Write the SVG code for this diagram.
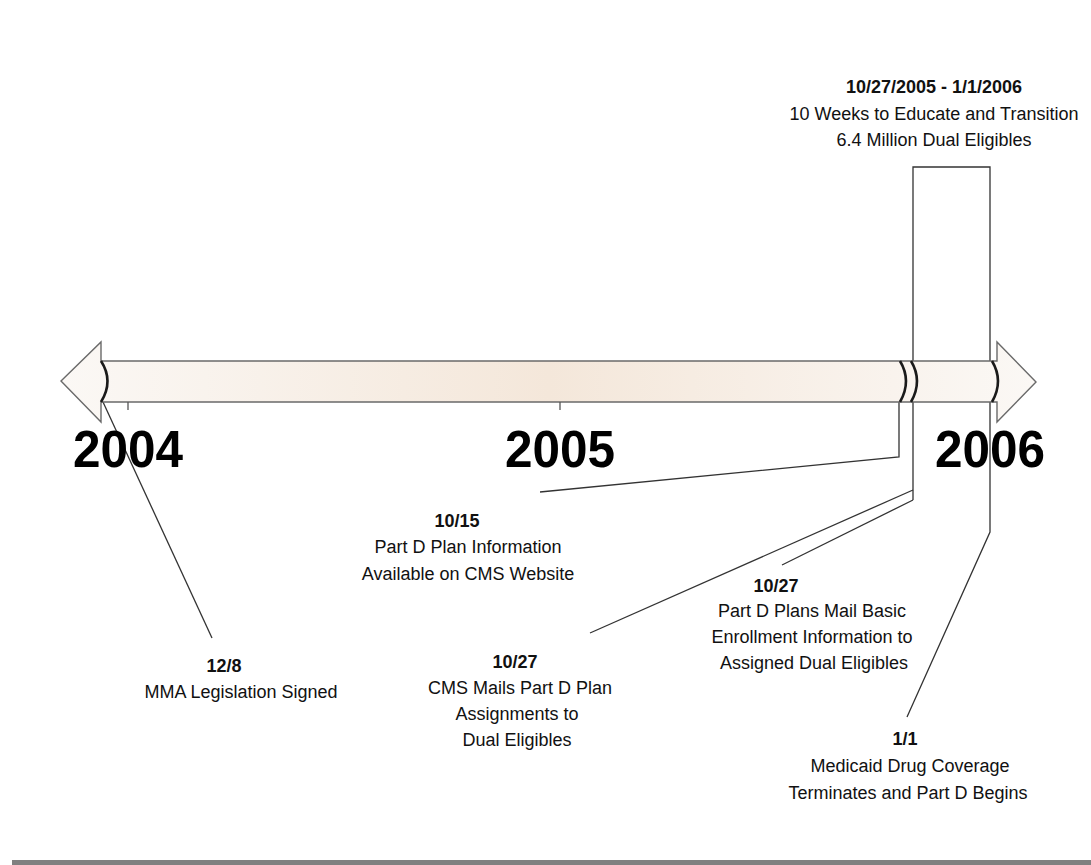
<svg xmlns="http://www.w3.org/2000/svg" width="1091" height="865" viewBox="0 0 1091 865">
<defs>
<linearGradient id="barFill" x1="0" y1="0" x2="1" y2="0">
<stop offset="0" stop-color="#fbf8f5"/>
<stop offset="0.5" stop-color="#f4e7da"/>
<stop offset="1" stop-color="#fbf8f5"/>
</linearGradient>
<style>
.lbl{font-family:"Liberation Sans",Arial,sans-serif;font-size:18px;fill:#111;text-anchor:middle}
.date{font-family:"Liberation Sans",Arial,sans-serif;font-size:18px;font-weight:bold;fill:#111;text-anchor:middle}
.year{font-family:"Liberation Sans",Arial,sans-serif;font-size:52px;font-weight:bold;fill:#000}
.conn{fill:none;stroke:#333;stroke-width:1.3}
.brk{fill:none;stroke:#1a1a1a;stroke-width:2.6}
.tick{stroke:#555;stroke-width:1.3}
</style>
</defs>
<rect width="1091" height="865" fill="#fff"/>
<g id="connectors">
<path class="conn" d="M103,402 L212,638"/>
<path class="conn" d="M899,402 V457 L540,492"/>
<path class="conn" d="M913,500 V167 H990 V532 L907,717"/>
<path class="conn" d="M913,490 L590,633"/>
<path class="conn" d="M913,500 L782,565"/>
</g>
<g id="timeline">
<path d="M101,361 V342 L61,381 L101,422 V402 H997 V422 L1036,382 L997,342 V361 Z" fill="url(#barFill)" stroke="#6a6a6a" stroke-width="1.4"/>
<path class="brk" d="M101,361 Q114,381 101,402"/>
<path class="brk" d="M900,361 Q912,381 900,402"/>
<path class="brk" d="M911,361 Q923,381 911,402"/>
<path class="brk" d="M992,361 Q1004,381 992,402"/>
<line class="tick" x1="128" y1="402" x2="128" y2="410"/>
<line class="tick" x1="560" y1="402" x2="560" y2="410"/>
</g>
<g id="years">
<text class="year" x="73" y="467" textLength="110" lengthAdjust="spacingAndGlyphs">2004</text>
<text class="year" x="505" y="467" textLength="110" lengthAdjust="spacingAndGlyphs">2005</text>
<text class="year" x="935" y="467" textLength="110" lengthAdjust="spacingAndGlyphs">2006</text>
</g>
<g id="window">
<text class="date" x="934" y="93">10/27/2005 - 1/1/2006</text>
<text class="lbl" x="934" y="120">10 Weeks to Educate and Transition</text>
<text class="lbl" x="934" y="146">6.4 Million Dual Eligibles</text>
</g>
<g id="event-12-8">
<text class="date" x="224" y="672">12/8</text>
<text class="lbl" x="241" y="698">MMA Legislation Signed</text>
</g>
<g id="event-10-15">
<text class="date" x="457" y="527">10/15</text>
<text class="lbl" x="468" y="553">Part D Plan Information</text>
<text class="lbl" x="468" y="580">Available on CMS Website</text>
</g>
<g id="event-10-27-cms">
<text class="date" x="515" y="668">10/27</text>
<text class="lbl" x="520" y="694">CMS Mails Part D Plan</text>
<text class="lbl" x="517" y="720">Assignments to</text>
<text class="lbl" x="517" y="746">Dual Eligibles</text>
</g>
<g id="event-10-27-plans">
<text class="date" x="776" y="592">10/27</text>
<text class="lbl" x="812" y="617">Part D Plans Mail Basic</text>
<text class="lbl" x="812" y="643">Enrollment Information to</text>
<text class="lbl" x="814" y="669">Assigned Dual Eligibles</text>
</g>
<g id="event-1-1">
<text class="date" x="905" y="745">1/1</text>
<text class="lbl" x="910" y="772">Medicaid Drug Coverage</text>
<text class="lbl" x="908" y="799">Terminates and Part D Begins</text>
</g>
<rect x="12" y="860" width="1079" height="5" fill="#808080"/>
</svg>
